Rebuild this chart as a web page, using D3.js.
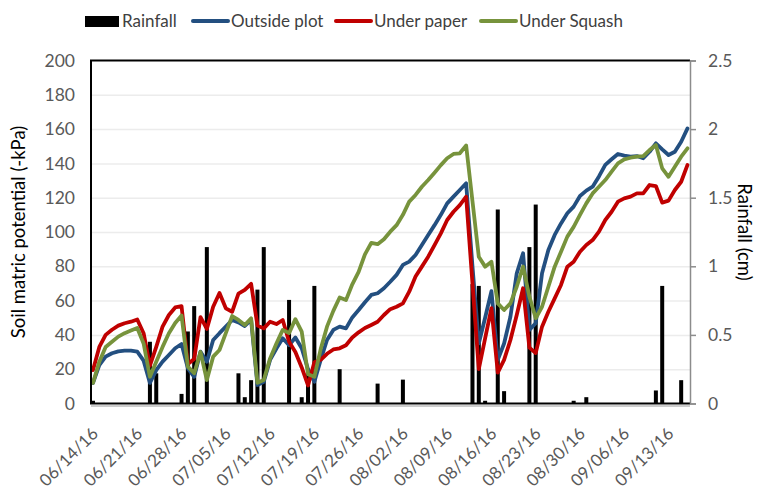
<!DOCTYPE html>
<html>
<head>
<meta charset="utf-8">
<script src="https://cdn.jsdelivr.net/npm/d3@7"></script>
<style>
  body { margin: 0; background: #fff; }
  svg text { font-family: Lato, "Liberation Sans", sans-serif; }
</style>
</head>
<body>
<svg id="chart" width="759" height="489"></svg>
<script>
// Daily series, 06/14/16 .. 09/16/16 (95 days)
const startDate = "06/14/16";

const outsidePlot = [
  12, 22.4, 27.3, 29.3, 30.4, 30.8, 30.8, 30.2, 25, 12,
  19.5, 24.4, 28.3, 32.2, 34.7, 20.5, 15.6, 30.2, 24.4, 37,
  41, 44.8, 48.7, 47.3, 45.2, 48.7, 10.8, 12.7, 25.4, 32,
  38, 34, 38.5, 32.2, 20, 12.7, 25.4, 37, 42.9, 44.8,
  43.8, 50.2, 54.5, 59, 63.3, 64.3, 67.2, 71, 75, 80.8,
  82.7, 86.6, 92.4, 98.3, 104, 110, 116.7, 120.6, 124.5, 128.4,
  80, 35, 50, 65.5, 25.4, 35, 50.6, 75.9, 87.6, 42.9,
  46.8, 75.9, 89.5, 98.3, 105, 110.9, 114.8, 121, 124.1, 126.4,
  132.4, 139.1, 142.4, 145.5, 144.5, 143.9, 144.3, 143, 146.8, 151.7,
  148.2, 144.9, 146.8, 152.6, 160.4
];

const underPaper = [
  19.5, 33, 40, 43, 45.4, 46.8, 47.7, 49, 41, 22,
  33, 44.8, 51.6, 56, 56.8, 23, 26, 50.4, 43.5, 56.4,
  64.4, 55.5, 53.5, 64, 66.2, 69.8, 45.5, 43.8, 47.7, 46.3,
  48.7, 36, 30, 21, 10.5, 24, 25.5, 29, 31.5, 32.2,
  34, 38.5, 41.5, 44, 45.8, 47.7, 51.6, 55, 56.4, 58.4,
  65.2, 74, 79.8, 85.6, 92.4, 99.2, 107, 111.8, 115.7, 120.6,
  70, 20, 38, 55.6, 18, 25.4, 37, 51.6, 67.2, 32.6,
  29.4, 44.8, 53.5, 61.3, 69.1, 79.8, 82.7, 88.5, 92.4, 95.3,
  100.2, 107, 111.8, 117.7, 119.6, 120.6, 122.5, 122.5, 127.4, 126.8,
  117.1, 118.3, 124.5, 129.3, 139.1
];

const underSquash = [
  12, 24.4, 33, 36, 39, 41, 42.5, 44, 35, 15.6,
  24.4, 33, 41, 47, 51.3, 21.5, 17.6, 30, 13.7, 27.3,
  31.2, 41, 51, 48.7, 45.8, 49.7, 12.1, 13.7, 26.3, 35,
  42.9, 41, 49.2, 41.9, 17, 15.6, 31.7, 44.8, 54, 61.8,
  60.3, 69.5, 76.8, 87, 93.7, 92.9, 95.8, 100.2, 104, 110,
  117.7, 121.6, 126.4, 130.3, 134.6, 139, 143, 145.5, 145.9, 150.4,
  118, 85.6, 79.8, 82.7, 58.4, 54.5, 58.4, 68.1, 79.8, 62.3,
  49.7, 56.4, 68.1, 79.8, 88.5, 97.3, 103, 110, 116.7, 122.5,
  126.4, 130.3, 135.2, 140, 142.4, 143.3, 143.9, 144.3, 147.8, 150.7,
  137.1, 132.2, 138.1, 143.9, 148.8
];

// Daily rainfall (cm)
const rainfall = [
  0.02, 0, 0, 0, 0, 0, 0, 0, 0, 0.45,
  0.22, 0, 0, 0, 0.07, 0.525, 0.71, 0, 1.14, 0,
  0, 0, 0, 0.22, 0.046, 0.17, 0.83, 1.14, 0, 0,
  0, 0.755, 0, 0.046, 0.22, 0.857, 0, 0, 0, 0.25,
  0, 0, 0, 0, 0, 0.145, 0, 0, 0, 0.174,
  0, 0, 0, 0, 0, 0, 0, 0, 0, 0,
  0.87, 0.857, 0.02, 0, 1.414, 0.09, 0, 0, 0, 1.14,
  1.45, 0, 0, 0, 0, 0, 0.02, 0, 0.046, 0,
  0, 0, 0, 0, 0, 0, 0, 0, 0, 0.095,
  0.857, 0, 0, 0.17, 0
];

const dateTicks = ["06/14/16", "06/21/16", "06/28/16", "07/05/16", "07/12/16", "07/19/16", "07/26/16",
                   "08/02/16", "08/09/16", "08/16/16", "08/23/16", "08/30/16", "09/06/16", "09/13/16"];
const leftTicks = [0, 20, 40, 60, 80, 100, 120, 140, 160, 180, 200];
const rightTicks = [0, 0.5, 1, 1.5, 2, 2.5];

const seriesNames = ["Outside plot", "Under paper", "Under Squash"];
const seriesColors = ["#234f80", "#c00000", "#77933c"];

const parse = d3.timeParse("%m/%d/%y");
const t0 = parse(startDate);
const days = outsidePlot.map((_, i) => d3.timeDay.offset(t0, i));

const svg = d3.select("#chart");
const L = 91, R = 690, T = 60.5, B = 403.5;

const x = d3.scaleTime().domain([days[0], days[days.length - 1]]).range([93, 687.5]);
const yL = d3.scaleLinear().domain([0, 200]).range([B, T]);
const yR = d3.scaleLinear().domain([0, 2.5]).range([B, T]);

// horizontal gridlines
svg.append("g")
  .attr("transform", `translate(${L},0)`)
  .call(d3.axisLeft(yL).tickValues(leftTicks.slice(1, -1)).tickSize(-(R - L)).tickFormat(""))
  .call(g => g.select(".domain").remove())
  .call(g => g.selectAll("line").attr("stroke", "#ececec").attr("stroke-width", 1.5));

// rainfall bars
svg.append("g").selectAll("rect")
  .data(rainfall.map((v, i) => ({ d: days[i], v })).filter(r => r.v > 0))
  .join("rect")
  .attr("x", r => x(r.d) - 2)
  .attr("width", 4)
  .attr("y", r => yR(r.v))
  .attr("height", r => yR(0) - yR(r.v))
  .attr("fill", "#000");

// soil matric potential lines
const line = d3.line().x((v, i) => x(days[i])).y(v => yL(v));
[outsidePlot, underPaper, underSquash].forEach((s, k) => {
  svg.append("path")
    .attr("d", line(s))
    .attr("fill", "none")
    .attr("stroke", seriesColors[k])
    .attr("stroke-width", 3.8)
    .attr("stroke-linejoin", "round")
    .attr("stroke-linecap", "round");
});

// plot frame
svg.append("path")
  .attr("d", `M${R},${T}H${L}V${B}H${R}`)
  .attr("fill", "none").attr("stroke", "#000").attr("stroke-width", 2);
svg.append("line").attr("x1", L).attr("x2", R).attr("y1", B + 2.5).attr("y2", B + 2.5)
  .attr("stroke", "#9a9a9a").attr("stroke-width", 1);

// left axis labels
svg.append("g")
  .attr("transform", `translate(${L},0)`)
  .call(d3.axisLeft(yL).tickValues(leftTicks).tickSize(0).tickPadding(16))
  .call(g => g.select(".domain").remove())
  .call(g => g.selectAll("text").attr("font-size", 17.5).attr("fill", "#595959"));

// right axis
svg.append("g")
  .attr("transform", `translate(${R},0)`)
  .call(d3.axisRight(yR).tickValues(rightTicks).tickFormat(d3.format("~g")).tickSize(6).tickPadding(12))
  .call(g => g.select(".domain").attr("stroke", "#8c8c8c").attr("stroke-width", 1.5))
  .call(g => g.selectAll("line").attr("stroke", "#8c8c8c").attr("stroke-width", 1.5))
  .call(g => g.selectAll("text").attr("font-size", 17.5).attr("fill", "#595959"));

// date labels
svg.append("g").selectAll("text")
  .data(dateTicks)
  .join("text")
  .attr("transform", d => `translate(${x(parse(d)) + 2},${B + 27}) rotate(-45)`)
  .attr("text-anchor", "end")
  .attr("dy", "0.35em")
  .attr("font-size", 17)
  .attr("fill", "#595959")
  .text(d => d);

// axis titles
svg.append("text")
  .attr("transform", `translate(25,${(T + B) / 2}) rotate(-90)`)
  .attr("text-anchor", "middle")
  .attr("font-size", 18.5)
  .attr("fill", "#000")
  .text("Soil matric potential (-kPa)");
svg.append("text")
  .attr("transform", `translate(738,${(T + B) / 2}) rotate(90)`)
  .attr("text-anchor", "middle")
  .attr("font-size", 18.5)
  .attr("fill", "#000")
  .text("Rainfall (cm)");

// legend
const lg = svg.append("g").attr("font-size", 17).attr("fill", "#404040");
lg.append("rect").attr("x", 85).attr("y", 16).attr("width", 34).attr("height", 11).attr("fill", "#000");
lg.append("text").attr("x", 122).attr("y", 27).text("Rainfall");
const lx = [193, 336, 481];
seriesNames.forEach((n, k) => {
  lg.append("line").attr("x1", lx[k]).attr("x2", lx[k] + 35).attr("y1", 21).attr("y2", 21)
    .attr("stroke", seriesColors[k]).attr("stroke-width", 4).attr("stroke-linecap", "round");
  lg.append("text").attr("x", lx[k] + 38).attr("y", 27).text(n);
});
</script>
</body>
</html>
